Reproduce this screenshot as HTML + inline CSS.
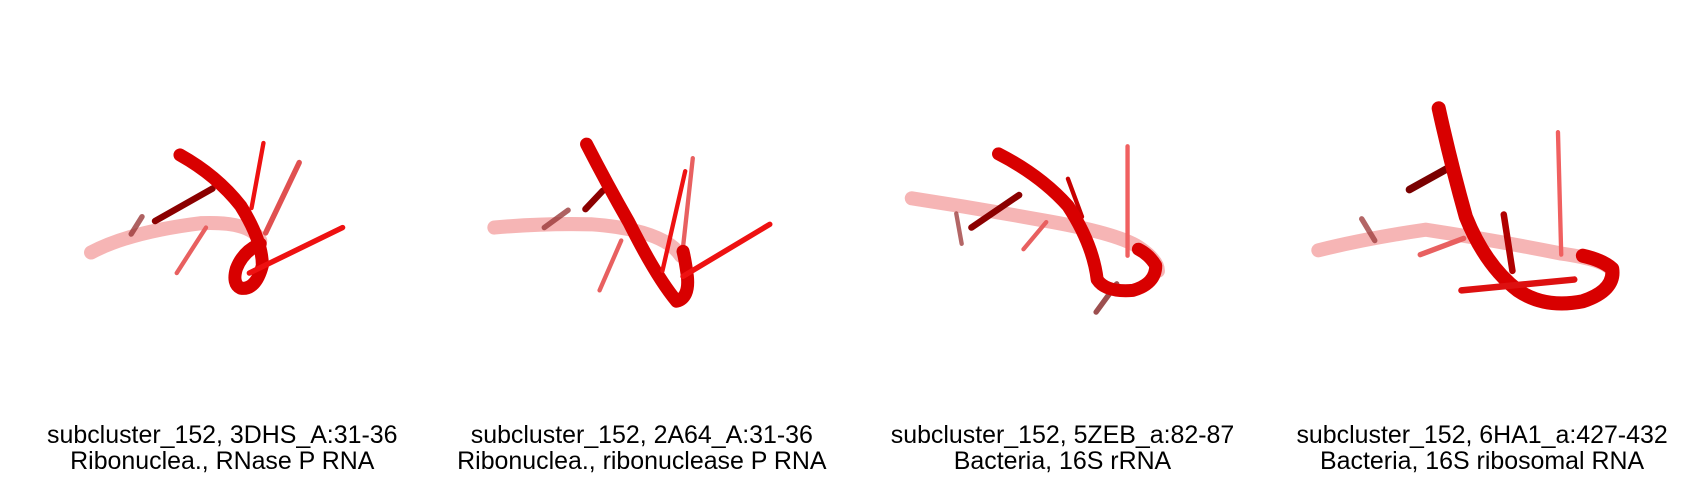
<!DOCTYPE html>
<html><head><meta charset="utf-8">
<style>
html,body{margin:0;padding:0;background:#fff;}
svg{display:block;}
text{font-family:"Liberation Sans",Arial,sans-serif;font-size:23px;fill:#000;}
</style></head>
<body>
<svg width="1700" height="480" viewBox="0 0 1568 443" preserveAspectRatio="none">
<g fill="none" stroke-linecap="round" stroke-linejoin="round">
<!-- Panel 1 -->
<g>
<path d="M84,233 Q120,214 185,206 Q232,204 240,222" stroke="#f4a8a8" stroke-width="13" opacity="0.85"/>
<line x1="121" y1="216" x2="131" y2="200" stroke="#9a3a3a" stroke-width="5" opacity="0.8"/>
<line x1="163" y1="252" x2="190" y2="210" stroke="#e86060" stroke-width="4"/>
<line x1="143" y1="204" x2="196" y2="174" stroke="#8b0000" stroke-width="6"/>
<line x1="245" y1="215" x2="276" y2="150" stroke="#e05050" stroke-width="5"/>
<path d="M166,143 Q200,162 222,190 Q242,222 242,245 Q236,268 222,266 Q214,262 218,248 Q224,232 240,225" stroke="#d80000" stroke-width="12"/>
<line x1="232" y1="192" x2="243" y2="132" stroke="#ee1111" stroke-width="4"/>
<line x1="230" y1="252" x2="316" y2="210" stroke="#ee1111" stroke-width="5"/>
</g>
<!-- Panel 2 -->
<g>
<path d="M456,210 Q500,206 545,207 Q612,212 628,236" stroke="#f4a8a8" stroke-width="13" opacity="0.85"/>
<line x1="502" y1="210" x2="524" y2="194" stroke="#9a3a3a" stroke-width="5" opacity="0.8"/>
<line x1="553" y1="268" x2="573" y2="222" stroke="#e86060" stroke-width="4"/>
<line x1="540" y1="193" x2="556" y2="176" stroke="#8b0000" stroke-width="6"/>
<line x1="630" y1="228" x2="639" y2="146" stroke="#e86060" stroke-width="4"/>
<path d="M541,133 Q560,170 580,205 Q605,255 624,278 Q636,275 634,255 Q632,240 630,232" stroke="#d80000" stroke-width="12"/>
<line x1="611" y1="250" x2="632" y2="158" stroke="#ee1111" stroke-width="4"/>
<line x1="630" y1="255" x2="710" y2="207" stroke="#ee1111" stroke-width="5"/>
</g>
<!-- Panel 3 -->
<g>
<path d="M841,183 Q900,192 960,203 Q1030,215 1050,228 Q1068,240 1068,250" stroke="#f4a8a8" stroke-width="13" opacity="0.85"/>
<line x1="882" y1="197" x2="887" y2="225" stroke="#a04040" stroke-width="4" opacity="0.8"/>
<line x1="944" y1="230" x2="965" y2="205" stroke="#e86060" stroke-width="4"/>
<line x1="1011" y1="288" x2="1030" y2="262" stroke="#8b3030" stroke-width="5" opacity="0.85"/>
<line x1="896" y1="210" x2="940" y2="180" stroke="#8b0000" stroke-width="6"/>
<line x1="1040" y1="236" x2="1040" y2="135" stroke="#f06060" stroke-width="4"/>
<line x1="985" y1="165" x2="998" y2="200" stroke="#c80000" stroke-width="4"/>
<path d="M921,142 Q960,162 985,190 Q1008,225 1012,258 Q1020,270 1045,268 Q1066,262 1066,245 Q1060,235 1050,230" stroke="#d80000" stroke-width="12"/>
</g>
<!-- Panel 4 -->
<g>
<path d="M1216,231 Q1260,220 1315,212 Q1380,222 1440,234 Q1482,240 1487,250" stroke="#f4a8a8" stroke-width="13" opacity="0.85"/>
<line x1="1256" y1="202" x2="1268" y2="222" stroke="#a04040" stroke-width="5" opacity="0.8"/>
<line x1="1310" y1="235" x2="1350" y2="220" stroke="#e86060" stroke-width="5"/>
<line x1="1437" y1="122" x2="1440" y2="235" stroke="#f06060" stroke-width="4"/>
<line x1="1300" y1="175" x2="1336" y2="155" stroke="#7a0000" stroke-width="7"/>
<line x1="1387" y1="198" x2="1395" y2="250" stroke="#b00000" stroke-width="6"/>
<path d="M1327,100 Q1338,150 1352,200 Q1370,245 1400,268 Q1425,285 1460,278 Q1490,268 1487,248 Q1478,240 1460,236" stroke="#d80000" stroke-width="13"/>
<line x1="1348" y1="268" x2="1452" y2="258" stroke="#dd1010" stroke-width="6"/>
</g>
</g>
<g text-anchor="middle">
<text x="205" y="409">subcluster_152, 3DHS_A:31-36</text>
<text x="205" y="433">Ribonuclea., RNase P RNA</text>
<text x="592" y="409">subcluster_152, 2A64_A:31-36</text>
<text x="592" y="433">Ribonuclea., ribonuclease P RNA</text>
<text x="980" y="409">subcluster_152, 5ZEB_a:82-87</text>
<text x="980" y="433">Bacteria, 16S rRNA</text>
<text x="1367" y="409">subcluster_152, 6HA1_a:427-432</text>
<text x="1367" y="433">Bacteria, 16S ribosomal RNA</text>
</g>
</svg>
</body></html>
